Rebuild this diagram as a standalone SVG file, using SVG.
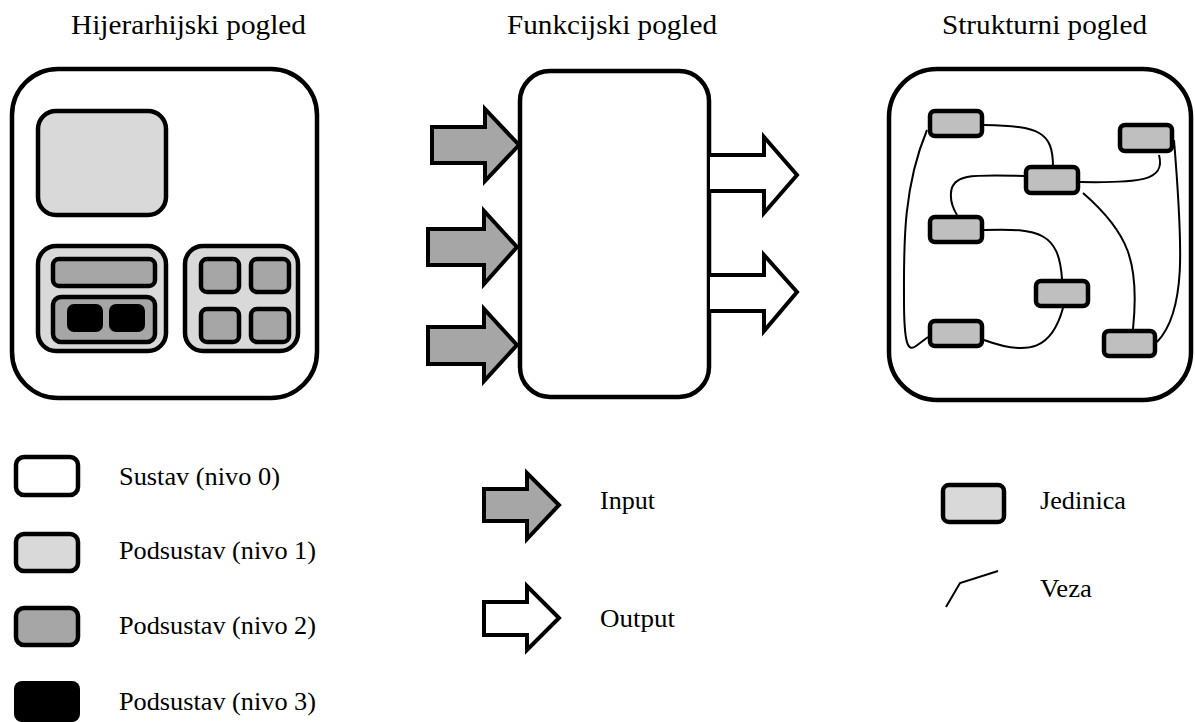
<svg xmlns="http://www.w3.org/2000/svg" width="1195" height="722" viewBox="0 0 1195 722">
<style>
.t{font-family:"Liberation Serif","Times New Roman",serif;fill:#000}
.title{font-size:28px}
.leg{font-size:25px}
.box{stroke:#000;stroke-width:4.5}
.l0{fill:#fff}
.l1{fill:#d9d9d9}
.l2{fill:#a6a6a6}
.l3{fill:#000}
.unit{fill:#bfbfbf;stroke:#000;stroke-width:4.5}
.arr{stroke:#000;stroke-width:4;stroke-linejoin:miter}
.in{fill:#a6a6a6}
.out{fill:#fff}
.link{fill:none;stroke:#000;stroke-width:2}
</style>
<rect width="1195" height="722" fill="#fff"/>

<!-- Titles -->
<text class="t title" x="71" y="34" textLength="235" lengthAdjust="spacingAndGlyphs">Hijerarhijski pogled</text>
<text class="t title" x="507" y="34" textLength="210" lengthAdjust="spacingAndGlyphs">Funkcijski pogled</text>
<text class="t title" x="942" y="34" textLength="205" lengthAdjust="spacingAndGlyphs">Strukturni pogled</text>

<!-- Hierarchical view -->
<g id="hier-system">
<rect class="box l0" x="12" y="69" width="305" height="329" rx="46"/>
</g>
<g id="hier-sub1-a">
<rect class="box l1" x="38" y="111" width="128" height="104" rx="18"/>
</g>
<g id="hier-sub1-b">
<rect class="box l1" x="38" y="246" width="128" height="105" rx="18"/>
<rect class="box l2" x="53" y="259" width="102" height="27" rx="6"/>
<rect class="box l2" x="53" y="297" width="102" height="45" rx="8"/>
<rect class="l3" x="67" y="304" width="36" height="28" rx="7"/>
<rect class="l3" x="109" y="304" width="36" height="28" rx="7"/>
</g>
<g id="hier-sub1-c">
<rect class="box l1" x="185" y="246" width="113" height="105" rx="18"/>
<rect class="box l2" x="201" y="259" width="38" height="33" rx="6"/>
<rect class="box l2" x="251" y="259" width="38" height="33" rx="6"/>
<rect class="box l2" x="201" y="309" width="38" height="33" rx="6"/>
<rect class="box l2" x="251" y="309" width="38" height="33" rx="6"/>
</g>

<!-- Functional view -->
<g id="func-box">
<rect class="box l0" x="520" y="71" width="189" height="326" rx="30"/>
</g>
<g id="func-inputs">
<polygon class="arr in" points="432,127 485,127 485,109 519,145 485,181 485,163 432,163"/>
<polygon class="arr in" points="428,229 484,229 484,211 517,247 484,284 484,265 428,265"/>
<polygon class="arr in" points="428,327 484,327 484,309 517,345 484,381 484,364 428,364"/>
</g>
<g id="func-outputs">
<polyline class="arr out" points="710,155 764,155 764,137 797,175 764,213 764,191 710,191"/>
<polyline class="arr out" points="710,275 764,275 764,255 797,292 764,331 764,311 710,311"/>
</g>

<!-- Structural view -->
<g id="struct-system">
<rect class="box l0" x="889" y="69" width="302" height="331" rx="48" stroke-width="5"/>
</g>
<g id="connectors">
<path class="link" d="M984,125 C1040,126 1053,132 1053,167"/>
<path class="link" d="M1024,176 C975,175 952,173 951,193 C950,203 954,210 957,215"/>
<path class="link" d="M1080,182 C1140,183 1166,181 1159,155"/>
<path class="link" d="M1083,193 C1128,232 1140,262 1133,329"/>
<path class="link" d="M1174,140 C1183,250 1186,312 1157,342"/>
<path class="link" d="M984,230 C1040,228 1059,233 1062,279"/>
<path class="link" d="M1063,308 C1052,348 1030,357 984,340"/>
<path class="link" d="M927,130 C902,190 904,250 904,300 C904,345 908,352 916,346 L928,337"/>
</g>
<g id="unit-1"><rect class="unit" x="930" y="111" width="52" height="25" rx="5"/></g>
<g id="unit-2"><rect class="unit" x="1120" y="125" width="52" height="26" rx="5"/></g>
<g id="unit-3"><rect class="unit" x="1026" y="167" width="52" height="26" rx="5"/></g>
<g id="unit-4"><rect class="unit" x="930" y="217" width="52" height="25" rx="5"/></g>
<g id="unit-5"><rect class="unit" x="1036" y="281" width="52" height="25" rx="5"/></g>
<g id="unit-6"><rect class="unit" x="930" y="321" width="52" height="25" rx="5"/></g>
<g id="unit-7"><rect class="unit" x="1104" y="331" width="51" height="25" rx="5"/></g>

<!-- Legend: hierarchical -->
<g id="legend-l0">
<rect class="box l0" x="16" y="457" width="62" height="38" rx="8"/>
<text class="t leg" x="119" y="485" textLength="161" lengthAdjust="spacingAndGlyphs">Sustav (nivo 0)</text>
</g>
<g id="legend-l1">
<rect class="box l1" x="16" y="534" width="62" height="37" rx="8"/>
<text class="t leg" x="119" y="559" textLength="197" lengthAdjust="spacingAndGlyphs">Podsustav (nivo 1)</text>
</g>
<g id="legend-l2">
<rect class="box l2" x="16" y="608" width="62" height="37" rx="8"/>
<text class="t leg" x="119" y="634" textLength="197" lengthAdjust="spacingAndGlyphs">Podsustav (nivo 2)</text>
</g>
<g id="legend-l3">
<rect class="l3" x="14" y="681" width="66" height="41" rx="8"/>
<text class="t leg" x="119" y="710" textLength="197" lengthAdjust="spacingAndGlyphs">Podsustav (nivo 3)</text>
</g>

<!-- Legend: functional -->
<g id="legend-input">
<polygon class="arr in" points="484,489 527,489 527,473 559,505 527,539 527,521 484,521"/>
<text class="t leg" x="600" y="509" textLength="55" lengthAdjust="spacingAndGlyphs">Input</text>
</g>
<g id="legend-output">
<polygon class="arr out" points="484,602 527,602 527,586 559,618 527,650 527,635 484,635"/>
<text class="t leg" x="600" y="627" textLength="75" lengthAdjust="spacingAndGlyphs">Output</text>
</g>

<!-- Legend: structural -->
<g id="legend-unit">
<rect class="box l1" x="943" y="485" width="61" height="37" rx="6"/>
<text class="t leg" x="1040" y="509" textLength="86" lengthAdjust="spacingAndGlyphs">Jedinica</text>
</g>
<g id="legend-link">
<polyline class="link" points="946,607 960,583 998,571"/>
<text class="t leg" x="1040" y="597" textLength="52" lengthAdjust="spacingAndGlyphs">Veza</text>
</g>
</svg>
